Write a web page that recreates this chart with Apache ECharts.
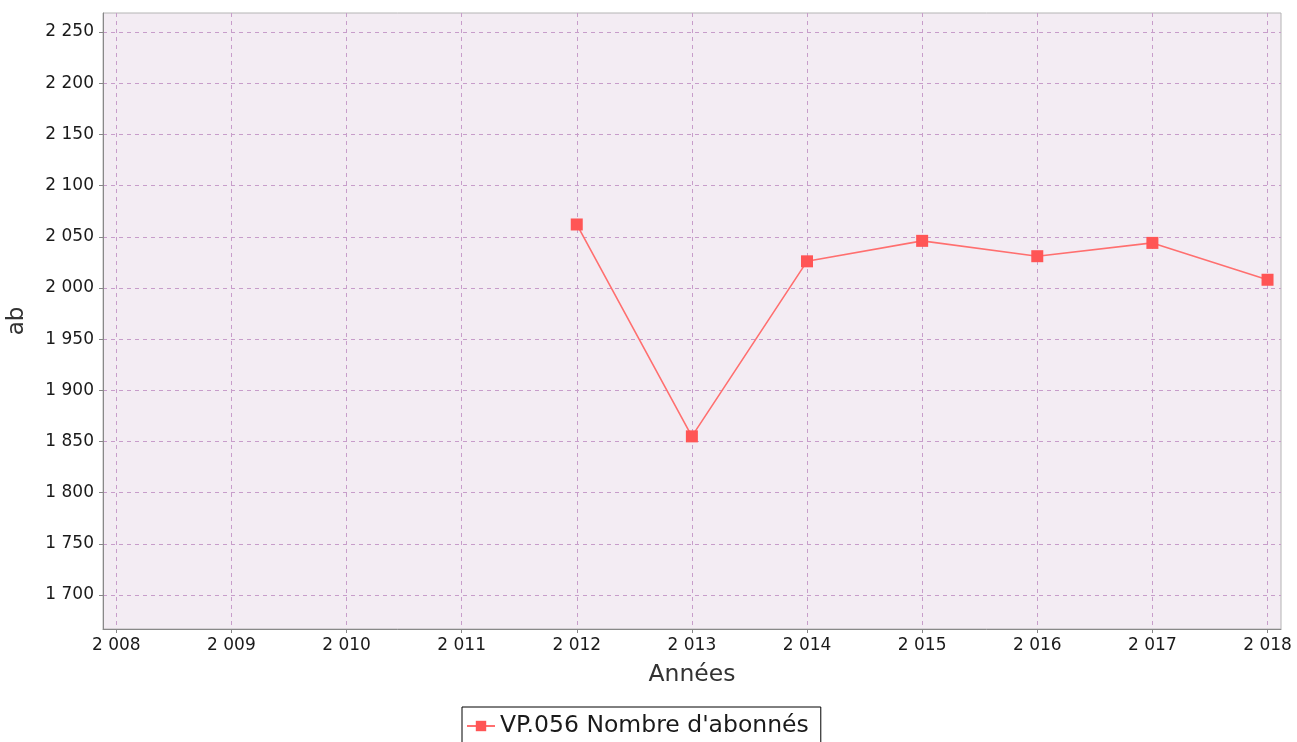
<!DOCTYPE html>
<html>
<head>
<meta charset="utf-8">
<script src="https://cdn.jsdelivr.net/npm/echarts@6/dist/echarts.min.js"></script>
<style>
html,body{margin:0;padding:0;background:#fff;}
#chart{width:1297px;height:742px;}
</style>
</head>
<body>
<div id="chart"></div>
<script>
// Data
var years = [2012, 2013, 2014, 2015, 2016, 2017, 2018];
var abonnes = [2062, 1855, 2026, 2046, 2031, 2044, 2008];
var xTicks = [2008, 2009, 2010, 2011, 2012, 2013, 2014, 2015, 2016, 2017, 2018];
var yTicks = [1700, 1750, 1800, 1850, 1900, 1950, 2000, 2050, 2100, 2150, 2200, 2250];
var seriesName = "VP.056 Nombre d'abonnés";
var xName = "Années";
var yName = "ab";

function fmt(v) {
  return String(Math.round(v)).replace(/\B(?=(\d{3})+(?!\d))/g, ' ');
}

var points = years.map(function (y, i) { return [y, abonnes[i]]; });

var font = 'DejaVu Sans';
var chart = echarts.init(document.getElementById('chart'), null, {renderer: 'canvas'});
chart.setOption({
  animation: false,
  backgroundColor: '#ffffff',
  textStyle: {fontFamily: font},
  grid: {
    left: 103, right: 16, top: 13, bottom: 113,
    containLabel: false,
    outerBoundsMode: 'none',
    show: true,
    backgroundColor: '#f3ecf3',
    borderColor: '#b4b4b4',
    borderWidth: 1
  },
  legend: {
    data: [seriesName],
    bottom: -10,
    left: 462,
    orient: 'horizontal',
    borderColor: '#000',
    borderWidth: 1,
    borderRadius: 0,
    padding: [7, 12, 14, 4],
    itemWidth: 28,
    itemHeight: 13,
    itemGap: 6,
    textStyle: {fontFamily: font, fontSize: 23.5, color: '#1a1a1a'}
  },
  xAxis: {
    type: 'value',
    min: 2007.885,
    max: 2018.117,
    name: xName,
    nameLocation: 'middle',
    nameGap: 34,
    nameTextStyle: {fontFamily: font, fontSize: 23.5, color: '#333'},
    axisLine: {show: true, onZero: false, lineStyle: {color: '#888', width: 1}},
    axisTick: {show: true, length: 4, customValues: xTicks, lineStyle: {color: '#888'}},
    axisLabel: {customValues: xTicks, formatter: fmt, fontFamily: font, fontSize: 17, color: '#1a1a1a', margin: 8},
    splitLine: {show: true, lineStyle: {color: '#c79dca', type: [4, 4], width: 1}}
  },
  yAxis: {
    type: 'value',
    min: 1666.8,
    max: 2268.6,
    name: yName,
    nameLocation: 'middle',
    nameGap: 74,
    nameTextStyle: {fontFamily: font, fontSize: 23, color: '#333'},
    axisLine: {show: true, onZero: false, lineStyle: {color: '#888', width: 1}},
    axisTick: {show: true, length: 4, customValues: yTicks, lineStyle: {color: '#888'}},
    axisLabel: {customValues: yTicks, formatter: fmt, fontFamily: font, fontSize: 17, color: '#1a1a1a', margin: 9},
    splitLine: {show: true, lineStyle: {color: '#c79dca', type: [4, 4], width: 1}}
  },
  series: [{
    name: seriesName,
    type: 'line',
    data: points,
    symbol: 'rect',
    symbolSize: 12,
    itemStyle: {color: '#ff5555'},
    lineStyle: {color: '#ff6f6f', width: 1.6},
    emphasis: {disabled: true}
  }]
});
</script>
</body>
</html>
